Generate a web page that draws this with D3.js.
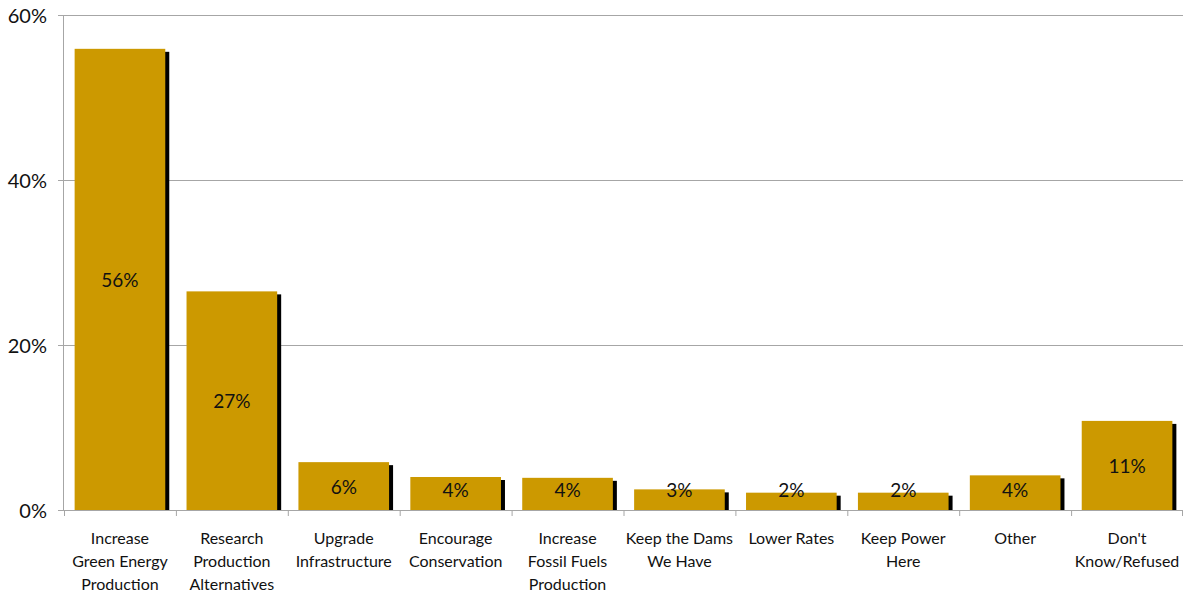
<!DOCTYPE html>
<html>
<head>
<meta charset="utf-8">
<script src="https://cdn.jsdelivr.net/npm/d3@7"></script>
<style>
  body { margin: 0; background: #fff; }
  svg { display: block; }
</style>
</head>
<body>
<svg id="chart" width="1183" height="593"></svg>
<script>
// data
const categories = [
  ["Increase", "Green Energy", "Production"],
  ["Research", "Production", "Alternatives"],
  ["Upgrade", "Infrastructure"],
  ["Encourage", "Conservation"],
  ["Increase", "Fossil Fuels", "Production"],
  ["Keep the Dams", "We Have"],
  ["Lower Rates"],
  ["Keep Power", "Here"],
  ["Other"],
  ["Don't", "Know/Refused"]
]
const values = [55.9, 26.5, 5.8, 4.0, 3.9, 2.5, 2.1, 2.1, 4.2, 10.8]
const labels = ["56%", "27%", "6%", "4%", "4%", "3%", "2%", "2%", "4%", "11%"]
const yTicks = [0, 20, 40, 60]

const svg = d3.select("#chart")
const margin = {left: 64, right: 0, top: 15, bottom: 83}
const width = 1183, height = 593
const x0 = margin.left, x1 = width, yTop = margin.top, yBot = height - margin.bottom

const x = d3.scaleBand()
  .domain(d3.range(values.length))
  .range([x0, x1])
  .paddingInner(0.19)
  .paddingOuter(0.095)
const y = d3.scaleLinear().domain([0, 60]).range([yBot, yTop])

const font = "Lato, 'Open Sans', sans-serif"
const step = (x1 - x0) / values.length

// gridlines
svg.append("g")
  .selectAll("line")
  .data(yTicks.filter(d => d > 0))
  .join("line")
    .attr("x1", x0).attr("x2", x1)
    .attr("y1", d => y(d) + 0.5).attr("y2", d => y(d) + 0.5)
    .attr("stroke", "#a6a6a6")

// shadows
svg.append("g")
  .selectAll("rect")
  .data(values)
  .join("rect")
    .attr("x", (d, i) => x(i) + 4)
    .attr("y", d => y(d) + 3)
    .attr("width", x.bandwidth())
    .attr("height", d => yBot - y(d) - 3)
    .attr("fill", "#000")

// bars
svg.append("g")
  .selectAll("rect")
  .data(values)
  .join("rect")
    .attr("x", (d, i) => x(i))
    .attr("y", d => y(d))
    .attr("width", x.bandwidth())
    .attr("height", d => yBot - y(d))
    .attr("fill", "#cc9900")

// value labels
svg.append("g")
  .selectAll("text")
  .data(values)
  .join("text")
    .attr("x", (d, i) => x(i) + x.bandwidth() / 2)
    .attr("y", d => Math.min((y(d) + yBot) / 2 + 1, 490))
    .attr("dy", "0.35em")
    .attr("text-anchor", "middle")
    .attr("font-family", font)
    .attr("font-size", 19)
    .attr("fill", "#111")
    .text((d, i) => labels[i])

// y axis
const yAxis = svg.append("g")
yAxis.append("line")
  .attr("x1", x0 - 0.5).attr("x2", x0 - 0.5)
  .attr("y1", yTop).attr("y2", yBot)
  .attr("stroke", "#a6a6a6")
yAxis.selectAll(".tick")
  .data(yTicks)
  .join("line")
    .attr("x1", x0 - 6).attr("x2", x0)
    .attr("y1", d => y(d) + 0.5).attr("y2", d => y(d) + 0.5)
    .attr("stroke", "#a6a6a6")
yAxis.selectAll("text")
  .data(yTicks)
  .join("text")
    .attr("x", 47)
    .attr("y", d => y(d) + 1)
    .attr("dy", "0.35em")
    .attr("text-anchor", "end")
    .attr("font-family", font)
    .attr("font-size", 20)
    .attr("fill", "#111")
    .text(d => d + "%")

// x axis
const xAxis = svg.append("g")
xAxis.append("line")
  .attr("x1", x0 - 6).attr("x2", x1)
  .attr("y1", yBot + 0.5).attr("y2", yBot + 0.5)
  .attr("stroke", "#a6a6a6")
xAxis.selectAll("line.tick")
  .data(d3.range(values.length + 1))
  .join("line")
    .attr("class", "tick")
    .attr("x1", i => Math.min(x0 + i * step, x1 - 1) + 0.5)
    .attr("x2", i => Math.min(x0 + i * step, x1 - 1) + 0.5)
    .attr("y1", yBot).attr("y2", yBot + 6)
    .attr("stroke", "#a6a6a6")

const catText = xAxis.selectAll("text")
  .data(categories)
  .join("text")
    .attr("x", (d, i) => x0 + (i + 0.5) * step)
    .attr("y", 544)
    .attr("text-anchor", "middle")
    .attr("font-family", font)
    .attr("font-size", 16)
    .attr("fill", "#111")
catText.selectAll("tspan")
  .data(d => d)
  .join("tspan")
    .attr("x", function () { return this.parentNode.getAttribute("x") })
    .attr("dy", (d, j) => j === 0 ? 0 : 23)
    .text(d => d)
</script>
</body>
</html>
